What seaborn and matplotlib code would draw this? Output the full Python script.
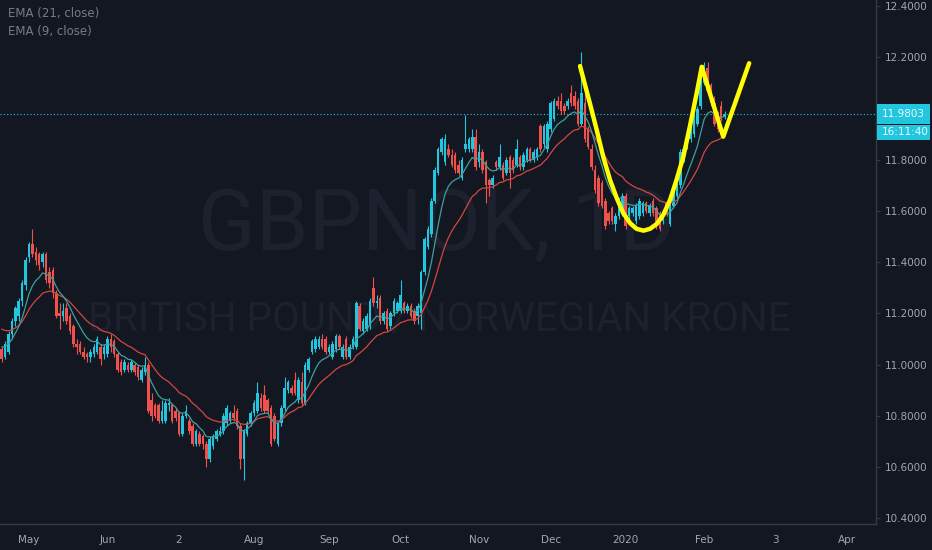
import numpy as np
import pandas as pd
import matplotlib
matplotlib.use('Agg')
import matplotlib.pyplot as plt
from matplotlib.patches import Rectangle
import seaborn as sns

# ---- data (GBPNOK daily) ----
start_date = '2019-04-19'

opens = [
    11.06, 11.03, 11.05, 11.12, 11.17, 11.19, 11.25, 11.31, 11.42, 11.47,
    11.44, 11.43, 11.40, 11.43, 11.36, 11.37, 11.28, 11.20, 11.19, 11.22,
    11.19, 11.15, 11.08, 11.08, 11.05, 11.04, 11.03, 11.04, 11.05, 11.07,
    11.04, 11.04, 11.10, 11.09, 11.04, 11.01, 10.98, 11.00, 10.98, 11.00,
    10.99, 10.94, 10.97, 11.00, 10.86, 10.84, 10.84, 10.78, 10.78, 10.84,
    10.84, 10.82, 10.81, 10.73, 10.80, 10.78, 10.76, 10.69, 10.73, 10.72,
    10.69, 10.63, 10.68, 10.71, 10.73, 10.74, 10.77, 10.78, 10.81, 10.82,
    10.76, 10.63, 10.73, 10.77, 10.81, 10.82, 10.87, 10.88, 10.86, 10.83,
    10.80, 10.69, 10.77, 10.83, 10.90, 10.91, 10.94, 10.86, 10.93, 10.85,
    10.98, 11.05, 11.06, 11.07, 11.10, 11.10, 11.05, 11.03, 11.06, 11.11,
    11.03, 11.10, 11.03, 11.07, 11.07, 11.23, 11.13, 11.14, 11.15, 11.30,
    11.24, 11.26, 11.17, 11.21, 11.15, 11.20, 11.21, 11.21, 11.24, 11.21,
    11.23, 11.21, 11.19, 11.20, 11.36, 11.46, 11.51, 11.64, 11.75, 11.83,
    11.79, 11.84, 11.82, 11.82, 11.78, 11.73, 11.84, 11.84, 11.84, 11.89,
    11.79, 11.83, 11.79, 11.72, 11.70, 11.79, 11.77, 11.78, 11.75, 11.81,
    11.80, 11.78, 11.81, 11.77, 11.80, 11.84, 11.80, 11.81, 11.93, 11.86,
    11.84, 11.92, 11.96, 12.03, 12.03, 12.01, 12.01, 12.06, 12.05, 12.03,
    11.94, 12.02, 11.92, 11.84, 11.76, 11.73, 11.71, 11.64, 11.59, 11.61,
    11.55, 11.58, 11.59, 11.66, 11.58, 11.59, 11.56, 11.58, 11.59, 11.63,
    11.59, 11.64, 11.61, 11.59, 11.56, 11.63, 11.55, 11.62, 11.66, 11.70,
    11.80, 11.85, 11.88, 11.90, 11.94, 12.01, 12.10, 12.16, 12.09, 12.02,
    11.98, 12.01, 11.97,
]
highs = [
    11.07, 11.09, 11.13, 11.18, 11.23, 11.26, 11.33, 11.42, 11.48, 11.53,
    11.46, 11.44, 11.44, 11.44, 11.38, 11.38, 11.29, 11.24, 11.24, 11.24,
    11.20, 11.16, 11.10, 11.09, 11.07, 11.05, 11.06, 11.08, 11.11, 11.08,
    11.08, 11.11, 11.12, 11.10, 11.05, 11.02, 11.02, 11.01, 11.02, 11.01,
    11.00, 10.99, 11.03, 11.01, 10.89, 10.85, 10.85, 10.86, 10.86, 10.87,
    10.85, 10.83, 10.82, 10.81, 10.84, 10.79, 10.77, 10.75, 10.74, 10.73,
    10.70, 10.72, 10.73, 10.75, 10.76, 10.81, 10.84, 10.82, 10.84, 10.83,
    10.77, 10.75, 10.78, 10.82, 10.86, 10.93, 10.89, 10.92, 10.87, 10.84,
    10.81, 10.78, 10.84, 10.95, 10.94, 10.92, 10.97, 10.95, 10.97, 11.01,
    11.03, 11.10, 11.11, 11.11, 11.12, 11.11, 11.08, 11.09, 11.12, 11.12,
    11.08, 11.11, 11.08, 11.11, 11.25, 11.24, 11.18, 11.20, 11.26, 11.34,
    11.27, 11.27, 11.21, 11.22, 11.21, 11.26, 11.25, 11.33, 11.25, 11.24,
    11.24, 11.22, 11.24, 11.37, 11.50, 11.54, 11.65, 11.77, 11.85, 11.89,
    11.90, 11.86, 11.84, 11.83, 11.80, 11.81, 11.975, 11.89, 11.92, 11.92,
    11.86, 11.84, 11.80, 11.73, 11.74, 11.80, 11.86, 11.79, 11.81, 11.82,
    11.81, 11.88, 11.82, 11.83, 11.85, 11.85, 11.84, 11.85, 11.94, 11.94,
    11.95, 12.03, 12.04, 12.05, 12.06, 12.02, 12.04, 12.09, 12.07, 12.04,
    12.22, 12.07, 11.93, 11.86, 11.78, 11.74, 11.72, 11.65, 11.60, 11.62,
    11.59, 11.65, 11.67, 11.67, 11.62, 11.62, 11.63, 11.65, 11.64, 11.64,
    11.63, 11.65, 11.62, 11.60, 11.60, 11.64, 11.63, 11.70, 11.71, 11.84,
    11.85, 11.91, 11.93, 11.98, 12.01, 12.13, 12.18, 12.18, 12.10, 12.05,
    11.99, 12.03, 11.99,
]
lows = [
    11.01, 11.02, 11.04, 11.10, 11.15, 11.17, 11.23, 11.29, 11.40, 11.42,
    11.39, 11.37, 11.38, 11.32, 11.30, 11.26, 11.18, 11.14, 11.17, 11.16,
    11.12, 11.07, 11.04, 11.04, 11.02, 11.01, 11.01, 11.03, 11.04, 11.00,
    11.02, 11.03, 11.05, 11.03, 10.97, 10.96, 10.97, 10.97, 10.97, 10.96,
    10.94, 10.93, 10.96, 10.81, 10.78, 10.79, 10.77, 10.77, 10.77, 10.82,
    10.77, 10.78, 10.72, 10.72, 10.79, 10.73, 10.68, 10.68, 10.68, 10.67,
    10.60, 10.62, 10.67, 10.70, 10.72, 10.73, 10.76, 10.77, 10.78, 10.75,
    10.59, 10.55, 10.72, 10.76, 10.80, 10.81, 10.82, 10.81, 10.81, 10.68,
    10.70, 10.68, 10.76, 10.82, 10.89, 10.88, 10.88, 10.85, 10.84, 10.84,
    10.97, 11.04, 11.05, 11.06, 11.06, 11.04, 11.04, 11.02, 11.05, 11.06,
    11.02, 11.02, 11.02, 11.06, 11.06, 11.13, 11.12, 11.13, 11.14, 11.23,
    11.22, 11.16, 11.16, 11.13, 11.14, 11.19, 11.20, 11.20, 11.20, 11.20,
    11.18, 11.16, 11.16, 11.14, 11.35, 11.45, 11.50, 11.63, 11.74, 11.82,
    11.78, 11.81, 11.77, 11.75, 11.74, 11.72, 11.83, 11.83, 11.83, 11.76,
    11.77, 11.75, 11.63, 11.66, 11.69, 11.76, 11.76, 11.72, 11.74, 11.69,
    11.75, 11.77, 11.76, 11.76, 11.79, 11.79, 11.79, 11.80, 11.83, 11.85,
    11.83, 11.91, 11.95, 12.00, 11.98, 11.98, 12.00, 12.01, 12.00, 11.93,
    11.93, 11.87, 11.84, 11.76, 11.67, 11.62, 11.61, 11.53, 11.55, 11.55,
    11.52, 11.57, 11.58, 11.53, 11.57, 11.58, 11.55, 11.57, 11.58, 11.59,
    11.58, 11.58, 11.53, 11.52, 11.55, 11.58, 11.54, 11.61, 11.65, 11.69,
    11.79, 11.84, 11.87, 11.89, 11.93, 12.00, 12.09, 12.06, 12.01, 11.93,
    11.91, 11.95, 11.96,
]
closes = [
    11.02, 11.08, 11.12, 11.17, 11.22, 11.25, 11.32, 11.41, 11.47, 11.43,
    11.41, 11.39, 11.43, 11.33, 11.32, 11.28, 11.19, 11.19, 11.21, 11.17,
    11.13, 11.08, 11.07, 11.05, 11.03, 11.03, 11.05, 11.07, 11.10, 11.02,
    11.07, 11.10, 11.07, 11.04, 10.98, 10.97, 11.01, 10.98, 11.01, 10.97,
    10.95, 10.98, 11.00, 10.82, 10.80, 10.80, 10.78, 10.82, 10.85, 10.85,
    10.78, 10.79, 10.73, 10.80, 10.82, 10.74, 10.69, 10.74, 10.69, 10.69,
    10.63, 10.71, 10.72, 10.74, 10.74, 10.80, 10.83, 10.81, 10.79, 10.76,
    10.63, 10.74, 10.77, 10.81, 10.85, 10.89, 10.83, 10.82, 10.82, 10.69,
    10.71, 10.77, 10.83, 10.91, 10.93, 10.89, 10.89, 10.94, 10.85, 11.00,
    11.02, 11.09, 11.10, 11.10, 11.07, 11.05, 11.07, 11.08, 11.11, 11.07,
    11.07, 11.03, 11.07, 11.10, 11.24, 11.14, 11.17, 11.19, 11.25, 11.24,
    11.25, 11.17, 11.20, 11.14, 11.20, 11.25, 11.24, 11.27, 11.21, 11.23,
    11.19, 11.17, 11.23, 11.36, 11.49, 11.53, 11.64, 11.76, 11.84, 11.88,
    11.88, 11.82, 11.78, 11.76, 11.75, 11.80, 11.86, 11.88, 11.89, 11.77,
    11.83, 11.76, 11.70, 11.70, 11.73, 11.77, 11.81, 11.73, 11.80, 11.75,
    11.76, 11.84, 11.77, 11.82, 11.84, 11.80, 11.83, 11.84, 11.84, 11.93,
    11.94, 12.02, 12.03, 12.01, 11.99, 11.99, 12.03, 12.02, 12.01, 11.94,
    12.06, 11.88, 11.85, 11.77, 11.68, 11.63, 11.62, 11.54, 11.56, 11.56,
    11.58, 11.64, 11.66, 11.54, 11.61, 11.61, 11.62, 11.64, 11.63, 11.60,
    11.62, 11.59, 11.54, 11.53, 11.59, 11.59, 11.62, 11.69, 11.70, 11.83,
    11.84, 11.90, 11.92, 11.96, 12.00, 12.12, 12.17, 12.07, 12.02, 11.94,
    11.92, 11.96, 11.9803,
]

# EMA levels at the left edge of the chart (history before the first bar)
ema21_seed = 11.15
ema9_seed = 11.08

last_price = 11.9803
countdown = '16:11:40'

# hand-drawn yellow brush (bar position, price)
brush_pos = [169.6, 172.5, 174.5, 176.4, 178.4, 180.4, 182.3, 184.3, 186.2, 188.2,
             190.1, 192.1, 194.0, 196.0, 197.9, 199.9, 201.8, 203.8, 205.3, 211.6, 219.2]
brush_price = [12.166, 12.02, 11.916, 11.812, 11.721, 11.649, 11.591, 11.552, 11.530, 11.523,
               11.530, 11.549, 11.584, 11.643, 11.721, 11.812, 11.929, 12.059, 12.163, 11.890, 12.177]

tick_dates = ['2019-05-01', '2019-06-03', '2019-07-02', '2019-08-01', '2019-09-02', '2019-10-01',
              '2019-11-01', '2019-12-02', '2020-01-01', '2020-02-03', '2020-03-03', '2020-04-01']
tick_labels = ['May', 'Jun', '2', 'Aug', 'Sep', 'Oct', 'Nov', 'Dec', '2020', 'Feb', '3', 'Apr']
# 12.0000 sits under the last-price label on the scale, so it is not shown
price_ticks = [10.4, 10.6, 10.8, 11.0, 11.2, 11.4, 11.6, 11.8, 12.2, 12.4]

# ---- colours ----
BG = '#131722'
UP = '#22c7df'
DOWN = '#f0514c'
EMA21_COL = '#d2473f'
EMA9_COL = '#3f9f9c'
TEXT = '#a3a6af'
LINE = '#363a45'
WATERMARK = '#1d212d'


def ema(values, span, seed):
    s = pd.Series([seed] + list(values))
    return s.ewm(span=span, adjust=False).mean().iloc[1:].to_numpy()


n = len(closes)
df = pd.DataFrame({'open': opens, 'high': highs, 'low': lows, 'close': closes})
df['pos'] = np.arange(n)
df['ema21'] = ema(closes, 21, ema21_seed)
df['ema9'] = ema(closes, 9, ema9_seed)
df['up'] = df['close'] >= df['open']

bdays = pd.bdate_range(start_date, '2020-06-30')
tick_pos = [bdays.get_loc(pd.Timestamp(d)) for d in tick_dates]

sns.set_theme(style='dark', rc={'axes.facecolor': BG, 'figure.facecolor': BG, 'axes.grid': False})
plt.rcParams['font.family'] = ['DejaVu Sans']

fig = plt.figure(figsize=(9.32, 5.5), dpi=100)
ax = fig.add_axes([0, 26 / 550, 876 / 932, 524 / 550])
ax.set_facecolor(BG)
ax.set_xlim(-0.5, 256.4)
ax.set_ylim(10.377, 12.424)

# watermark
ax.text(0.498, 0.523, 'GBPNOK, 1D', transform=ax.transAxes, ha='center', va='baseline',
        fontsize=61, color=WATERMARK, family=['Roboto', 'DejaVu Sans'], zorder=0)
ax.text(0.502, 0.370, 'BRITISH POUND / NORWEGIAN KRONE', transform=ax.transAxes, ha='center',
        va='baseline', fontsize=29, color=WATERMARK, family=['Roboto', 'DejaVu Sans'], zorder=0)

# candles
cols = np.where(df['up'], UP, DOWN)
ax.vlines(df['pos'], df['low'], df['high'], colors=cols, lw=0.8, zorder=2)
body_lo = df[['open', 'close']].min(axis=1)
body_h = (df['close'] - df['open']).abs().clip(lower=0.004)
ax.bar(df['pos'], body_h, bottom=body_lo, width=0.74, color=cols, linewidth=0, zorder=3)

# EMAs
sns.lineplot(data=df, x='pos', y='ema21', color=EMA21_COL, lw=0.9, ax=ax, zorder=4)
sns.lineplot(data=df, x='pos', y='ema9', color=EMA9_COL, lw=0.9, ax=ax, zorder=4)

# last price dotted line
ax.axhline(last_price, color=UP, lw=0.8, ls=(0, (1, 2)), zorder=1)

# yellow brush
ax.plot(brush_pos, brush_price, color='#ffff00', lw=3.2, solid_capstyle='round',
        solid_joinstyle='round', zorder=6)

# axes styling
for side in ['top', 'left']:
    ax.spines[side].set_visible(False)
ax.spines['right'].set_color(LINE)
ax.spines['bottom'].set_color(LINE)
ax.spines['right'].set_linewidth(1)
ax.spines['bottom'].set_linewidth(1)
ax.set_xlabel('')
ax.set_ylabel('')

ax.set_xticks(tick_pos)
ax.set_xticklabels(tick_labels)
ax.yaxis.tick_right()
ax.set_yticks(price_ticks)
ax.set_yticklabels([f'{p:.4f}' for p in price_ticks])
ax.tick_params(axis='x', colors=TEXT, labelsize=7.5, length=3, width=0.8, pad=5, color=LINE)
ax.tick_params(axis='y', colors=TEXT, labelsize=7.5, length=3, width=0.8, pad=3, color=LINE)

# legend texts
fig.text(8 / 932, 1 - 14 / 550, 'EMA (21, close)', color='#787b86', fontsize=8.5, va='center')
fig.text(8 / 932, 1 - 32 / 550, 'EMA (9, close)', color='#787b86', fontsize=8.5, va='center')

# last price + countdown labels on the price scale
fig.canvas.draw()
y_pix = ax.transData.transform((0, last_price))[1]
W, H = fig.bbox.width, fig.bbox.height
box_x = 877 / W
box_w = 53 / W
y0 = (y_pix - 10) / H
fig.add_artist(Rectangle((box_x, y0), box_w, 20 / H, transform=fig.transFigure,
                         facecolor=UP, edgecolor='none', zorder=10))
fig.add_artist(Rectangle((box_x, y0 - 16 / H), box_w, 15 / H, transform=fig.transFigure,
                         facecolor=UP, edgecolor='none', zorder=10))
fig.text(box_x + 5 / W, y_pix / H, f'{last_price:.4f}', color='#eafcff', fontsize=7.5,
         va='center', ha='left', zorder=11)
fig.text(box_x + 5 / W, (y_pix - 18.5) / H, countdown, color='#eafcff', fontsize=7.5,
         va='center', ha='left', zorder=11)

fig.savefig('out.png', dpi=100, facecolor=BG)
